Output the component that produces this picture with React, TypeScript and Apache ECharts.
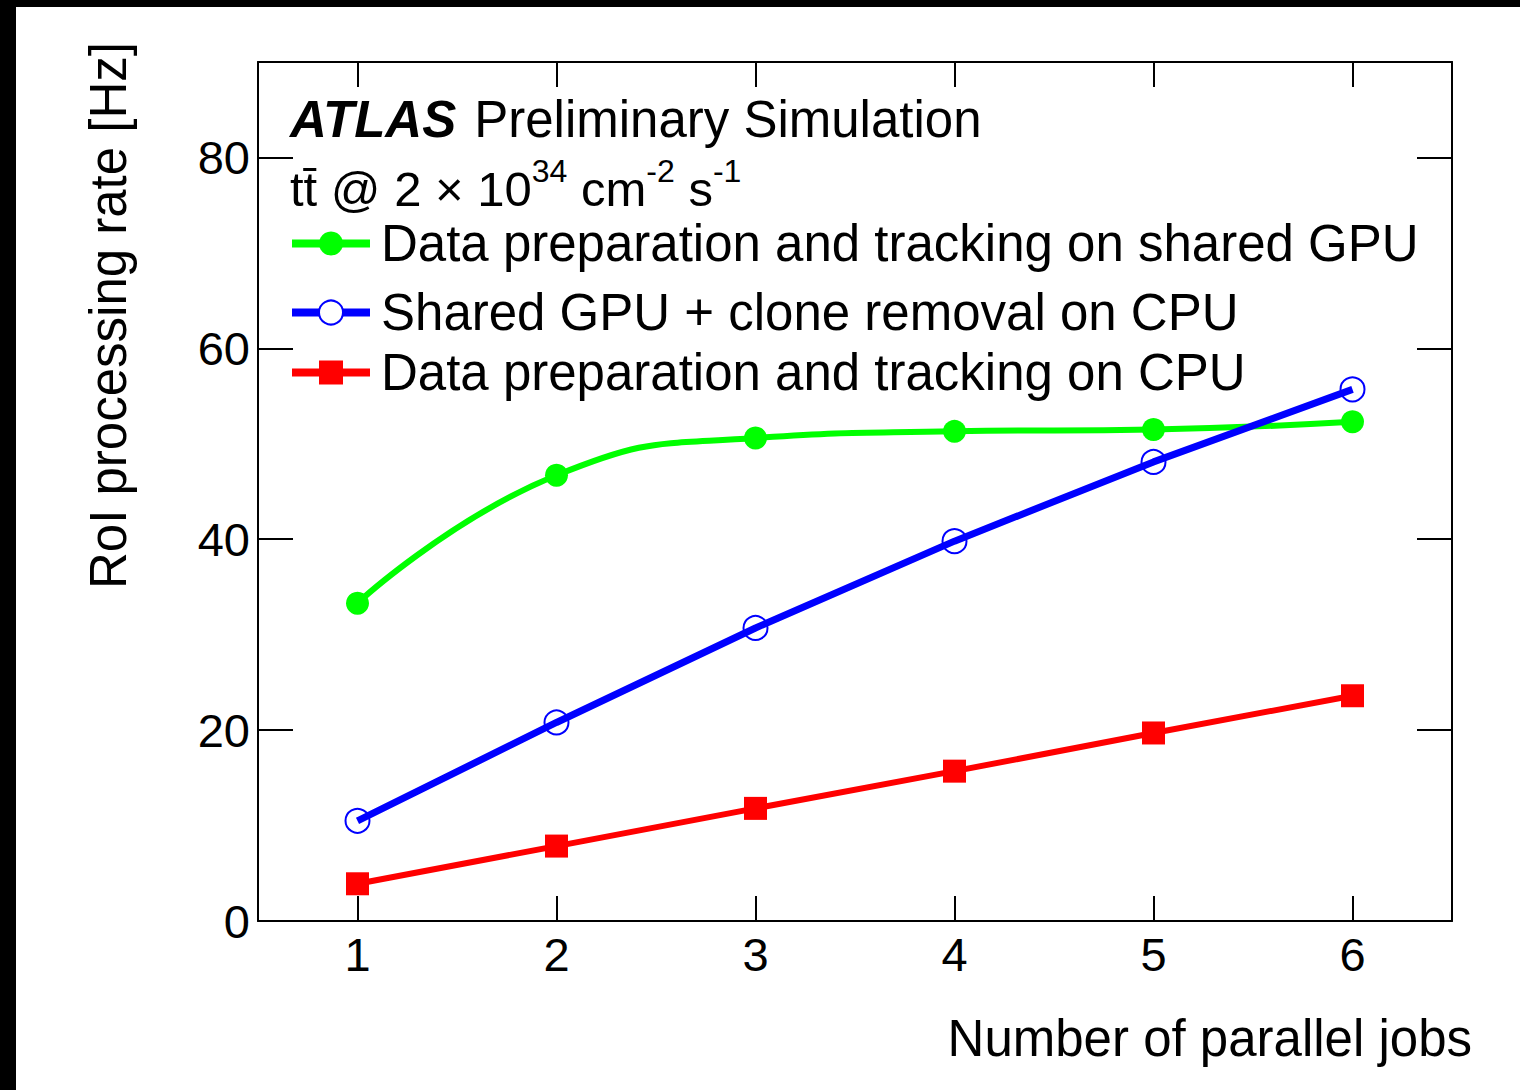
import React, { useEffect, useRef } from "react";
import * as echarts from "echarts";

const jobs = [1, 2, 3, 4, 5, 6];
const gpuShared = [33.3, 46.7, 50.6, 51.3, 51.5, 52.3];
const gpuClone = [10.5, 20.8, 30.7, 39.8, 48.1, 55.7];
const cpuOnly = [3.9, 7.85, 11.8, 15.7, 19.7, 23.6];
const xTicks = [1, 2, 3, 4, 5, 6];
const yTicks = [0, 20, 40, 60, 80];
const seriesNames = [
  "Data preparation and tracking on shared GPU",
  "Shared GPU + clone removal on CPU",
  "Data preparation and tracking on CPU",
];
const xTitle = "Number of parallel jobs";
const yTitle = "RoI processing rate [Hz]";

const FONT = "'Liberation Sans', Arial, Helvetica, sans-serif";
const FS = 47; // tick labels
const TS = 51; // titles / legend

function pairs(vals: number[]) {
  return jobs.map((x, i) => [x, vals[i]]);
}

export default function App() {
  const ref = useRef<HTMLDivElement>(null);
  useEffect(() => {
    if (!ref.current) return;
    const chart = echarts.init(ref.current, undefined, { renderer: "svg" });
    const axisLine = { show: true, onZero: false, lineStyle: { color: "#000", width: 2 } };
    const tickX = { show: true, inside: true, length: 25, customValues: xTicks, lineStyle: { color: "#000", width: 2 } };
    const tickY = { show: true, inside: true, length: 35, customValues: yTicks, lineStyle: { color: "#000", width: 2 } };
    const legendBase = {
      orient: "horizontal",
      left: 272,
      padding: 0,
      itemWidth: 78,
      itemHeight: 30,
      lineStyle: { width: 8 },
      textStyle: { fontSize: TS, color: "#000", fontFamily: FONT, padding: [0, 0, 0, 6] },
    };
    chart.setOption({
      animation: false,
      backgroundColor: "#fff",
      grid: { left: 242, right: 68, top: 55, bottom: 169, containLabel: false },
      xAxis: [
        {
          type: "value",
          min: 0.5,
          max: 6.5,
          position: "bottom",
          axisLine,
          splitLine: { show: false },
          axisTick: tickX,
          axisLabel: { show: true, customValues: xTicks, fontSize: FS, color: "#000", fontFamily: FONT, margin: 10 },
          name: xTitle,
          nameLocation: "end",
          nameGap: 20,
          nameTextStyle: { fontSize: TS, color: "#000", fontFamily: FONT, align: "right", verticalAlign: "top", padding: [92, 0, 0, 0] },
        },
        {
          type: "value",
          min: 0.5,
          max: 6.5,
          position: "top",
          axisLine,
          splitLine: { show: false },
          axisTick: tickX,
          axisLabel: { show: false },
        },
      ],
      yAxis: [
        {
          type: "value",
          min: 0,
          max: 90,
          position: "left",
          axisLine,
          splitLine: { show: false },
          axisTick: tickY,
          axisLabel: { show: true, customValues: yTicks, fontSize: FS, color: "#000", fontFamily: FONT, margin: 8 },
        },
        {
          type: "value",
          min: 0,
          max: 90,
          position: "right",
          axisLine,
          splitLine: { show: false },
          axisTick: tickY,
          axisLabel: { show: false },
        },
      ],
      legend: [
        { ...legendBase, top: 211, data: [seriesNames[0]] },
        {
          ...legendBase,
          top: 280,
          data: [{ name: seriesNames[1], itemStyle: { color: "#fff", borderColor: "#0000ff", borderWidth: 2 } }],
        },
        { ...legendBase, top: 340, data: [seriesNames[2]] },
      ],
      series: [
        {
          name: seriesNames[0],
          type: "line",
          data: pairs(gpuShared),
          smooth: 0.5,
          symbol: "circle",
          symbolSize: 23,
          lineStyle: { color: "#00ff00", width: 6 },
          itemStyle: { color: "#00ff00" },
          z: 2,
        },
        {
          name: seriesNames[1],
          type: "line",
          data: pairs(gpuClone),
          symbol: "circle",
          symbolSize: 24,
          lineStyle: { color: "#0000ff", width: 7 },
          itemStyle: { color: "rgba(255,255,255,0)", borderColor: "#0000ff", borderWidth: 2 },
          z: 3,
        },
        {
          name: seriesNames[2],
          type: "line",
          data: pairs(cpuOnly),
          symbol: "rect",
          symbolSize: 23,
          lineStyle: { color: "#ff0000", width: 6 },
          itemStyle: { color: "#ff0000" },
          z: 4,
        },
      ],
      graphic: [
        {
          type: "text",
          x: 274,
          y: 112,
          style: {
            text: "{b|ATLAS}{n|Preliminary Simulation}",
            verticalAlign: "middle",
            align: "left",
            rich: {
              b: { fontSize: TS, fontWeight: "bold", fontStyle: "italic", fontFamily: FONT, fill: "#000" },
              n: { fontSize: TS, fontFamily: FONT, fill: "#000", padding: [0, 0, 0, 18] },
            },
          },
        },
        {
          type: "text",
          x: 274,
          y: 177,
          style: {
            text: "{m|tt\u0304 @ 2 \u00d7 10}{s|34}{m| cm}{s|-2}{m| s}{s|-1}",
            verticalAlign: "middle",
            align: "left",
            rich: {
              m: { fontSize: TS - 2, fontFamily: FONT, fill: "#000", lineHeight: 58, verticalAlign: "bottom" },
              s: { fontSize: 32, fontFamily: FONT, fill: "#000", lineHeight: 34, verticalAlign: "top" },
            },
          },
        },
        {
          type: "text",
          x: 92,
          y: 35,
          rotation: Math.PI / 2,
          style: {
            text: yTitle,
            fontSize: TS,
            fontFamily: FONT,
            fill: "#000",
            align: "right",
            verticalAlign: "middle",
          },
        },
      ],
    });
    return () => chart.dispose();
  }, []);

  return (
    <div style={{ position: "fixed", left: 0, top: 0, width: 1520, height: 1090, background: "#000" }}>
      <div ref={ref} style={{ position: "absolute", left: 16, top: 7, width: 1504, height: 1083, background: "#fff" }} />
    </div>
  );
}
